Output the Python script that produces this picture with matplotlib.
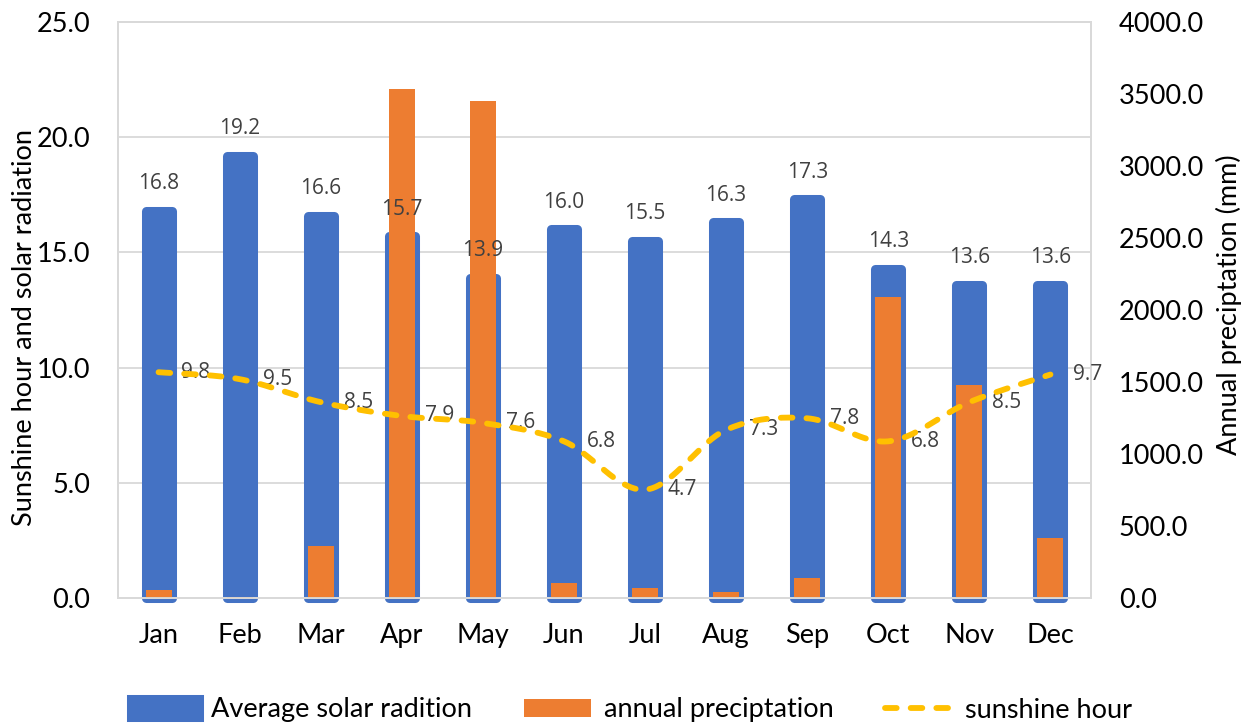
import numpy as np
import matplotlib
matplotlib.use("Agg")
import matplotlib.pyplot as plt
from matplotlib.patches import Patch
from matplotlib.lines import Line2D

months = ["Jan", "Feb", "Mar", "Apr", "May", "Jun",
          "Jul", "Aug", "Sep", "Oct", "Nov", "Dec"]
solar = [16.8, 19.2, 16.6, 15.7, 13.9, 16.0, 15.5, 16.3, 17.3, 14.3, 13.6, 13.6]
precip = [56, 10, 361, 3533, 3449, 104, 67, 42, 137, 2090, 1477, 417]
sunshine = [9.8, 9.5, 8.5, 7.9, 7.6, 6.8, 4.7, 7.3, 7.8, 6.8, 8.5, 9.7]

blue = "#4472C4"
orange = "#ED7D31"
yellow = "#FFC000"
grid_c = "#D9D9D9"
lab_c = "#404040"

plt.rcParams["font.family"] = ["Lato", "DejaVu Sans"]
FS = 19.5


def catmull(x, y, n=24):
    # smooth curve through the points, like excel's "smoothed line"
    p = np.column_stack([x, y]).astype(float)
    p = np.vstack([p[0], p, p[-1]])
    out = []
    t = np.linspace(0, 1, n)[:, None]
    for i in range(1, len(p) - 2):
        p0, p1, p2, p3 = p[i - 1], p[i], p[i + 1], p[i + 2]
        seg = 0.5 * (2 * p1 + (-p0 + p2) * t + (2 * p0 - 5 * p1 + 4 * p2 - p3) * t ** 2
                     + (-p0 + 3 * p1 - 3 * p2 + p3) * t ** 3)
        out.append(seg if i == 1 else seg[1:])
    out = np.vstack(out)
    return out[:, 0], out[:, 1]


fig = plt.figure(figsize=(12.48, 7.25), dpi=100)
ax = fig.add_axes([118 / 1248, 1 - 598 / 725, 973 / 1248, 576 / 725])
ax2 = ax.twinx()
ax3 = ax.twinx()

x = np.arange(len(months))

# solar radiation bars (left axis), thick same-colour outline gives the rounded look
ax.bar(x, solar, width=0.32, color=blue, edgecolor=blue, linewidth=6.5,
       joinstyle="round", zorder=2, clip_on=False)

ax.set_ylim(0, 25)
ax.set_xlim(-0.5, len(months) - 0.5)
ax.set_yticks(np.arange(0, 25.1, 5))
ax.set_yticklabels([f"{v:.1f}" for v in np.arange(0, 25.1, 5)])
ax.set_xticks(x)
ax.set_xticklabels(months)
ax.grid(axis="y", color=grid_c, linewidth=1.3, zorder=0)
ax.set_axisbelow(True)
ax.tick_params(axis="y", length=0, pad=20, labelsize=FS)
ax.tick_params(axis="x", length=0, pad=18, labelsize=FS)

# precipitation bars (right axis)
ax2.bar(x, precip, width=0.32, color=orange, zorder=3)
ax2.set_ylim(0, 4000)
ax2.set_yticks(np.arange(0, 4001, 500))
ax2.set_yticklabels([f"{v:.1f}" for v in np.arange(0, 4001, 500)])
ax2.tick_params(axis="y", length=0, pad=20, labelsize=FS)

# sunshine line + all data labels on top
sx, sy = catmull(x, sunshine)
ax3.plot(sx, sy, color=yellow, linewidth=4.2, linestyle=(0, (2.0, 2.4)),
         dash_capstyle="round", zorder=4)
for xi, v in zip(x, sunshine):
    ax3.annotate(f"{v:.1f}", (xi, v), xytext=(16.5, 0), textcoords="offset points",
                 ha="left", va="center", fontsize=15, color=lab_c, family="Open Sans")
for xi, v in zip(x, solar):
    ax3.annotate(f"{v:.1f}", (xi, v), xytext=(0, 19.5), textcoords="offset points",
                 ha="center", va="center", fontsize=15, color=lab_c, family="Open Sans")
ax3.set_ylim(0, 25)
ax3.set_yticks([])

for a in (ax, ax2, ax3):
    for s in a.spines.values():
        s.set_color(grid_c)
        s.set_linewidth(1.3)

fig.text(25 / 1248, 1 - 327 / 725, "Sunshine hour and solar radiation", rotation=90,
         ha="center", va="center", fontsize=FS)
fig.text(1229 / 1248, 1 - 305 / 725, "Annual preciptation (mm)", rotation=90,
         ha="center", va="center", fontsize=FS)

handles = [
    Patch(facecolor=blue, edgecolor=blue, linewidth=6.5, joinstyle="round"),
    Patch(facecolor=orange),
    Line2D([0], [0], color=yellow, linewidth=4.2, linestyle=(0, (2.0, 2.4)),
           dash_capstyle="round"),
]
fig.legend(handles, ["Average solar radition", "annual preciptation", "sunshine hour"],
           loc="center", bbox_to_anchor=(0.506, 1 - 710 / 725), ncol=3, frameon=False,
           fontsize=FS, handlelength=2.5, handleheight=0.63, handletextpad=0.45,
           columnspacing=1.9)

fig.savefig("out.png", dpi=100)
